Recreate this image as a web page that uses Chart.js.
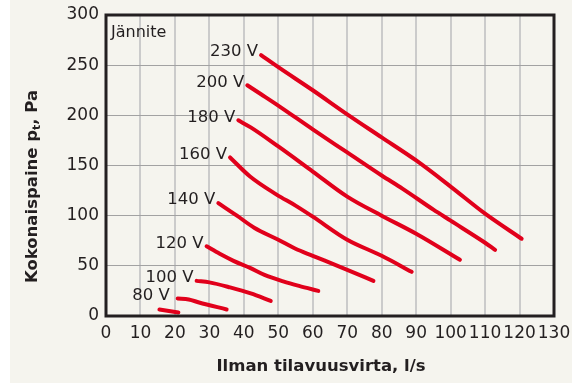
<!DOCTYPE html>
<html>
<head>
<meta charset="utf-8">
<script src="https://cdn.jsdelivr.net/npm/chart.js@4/dist/chart.umd.min.js"></script>
<style>
  html, body { margin: 0; padding: 0; background: #fff; }
  #wrap {
    width: 572px; height: 383px;
    background: linear-gradient(to right, #ffffff 10px, #f5f4ee 10px);
  }
  canvas { display: block; }
</style>
</head>
<body>
<div id="wrap"><canvas id="fanChart" width="572" height="383"></canvas></div>
<script>
// Ilmavirta (l/s) ja kokonaispaine (Pa) eri jännitteillä
const q230 = [45, 50, 60, 70, 80, 90, 100, 110, 120.6];
const p230 = [260, 248, 225, 201, 178, 155, 129, 102, 77];

const q200 = [41, 45, 50.5, 60, 70, 80, 86, 95, 100, 110, 112.9];
const p200 = [230, 221, 208.5, 186, 163, 140, 127, 106, 95, 73, 66];

const q180 = [38.4, 42, 50, 60, 70, 80, 90, 102.7];
const p180 = [195, 188, 169, 144, 119, 100, 82, 56];

const q160 = [36, 41.8, 49.5, 55, 60, 70, 80, 88.7];
const p160 = [158, 139, 121, 110, 99, 76, 60, 44];

const q140 = [32.6, 38, 43, 50, 55, 60, 70, 77.6];
const p140 = [112.5, 100, 88, 76, 67, 60, 46, 35];

const q120 = [29.2, 33, 37, 41.8, 46, 51.4, 56, 61.6];
const p120 = [69.5, 62, 55, 48, 41, 34.6, 30, 25];

const q100 = [26.3, 30, 36, 42, 47.8];
const p100 = [35, 33.5, 28.5, 22.5, 15];

const q80 = [20.8, 24, 27, 35];
const p80 = [17.5, 16.5, 13.5, 6.5];

// lyhyt käyrä ilman omaa merkintää
const qLow = [15.5, 21];
const pLow = [6.5, 3.5];

const curveLabels = ['230 V', '200 V', '180 V', '160 V', '140 V', '120 V', '100 V', '80 V', ''];
const curveFlows = [q230, q200, q180, q160, q140, q120, q100, q80, qLow];
const curvePressures = [p230, p200, p180, p160, p140, p120, p100, p80, pLow];

const xTicks = [0, 10, 20, 30, 40, 50, 60, 70, 80, 90, 100, 110, 120, 130];
const yTicks = [0, 50, 100, 150, 200, 250, 300];

const RED = '#e1001b';
const INK = '#231f20';
const FONT = 'DejaVu Sans';

const datasets = curveLabels.map((label, i) => ({
  label,
  data: curveFlows[i].map((x, j) => ({ x, y: curvePressures[i][j] })),
  borderColor: RED,
  borderWidth: 4,
  borderCapStyle: 'round',
  borderJoinStyle: 'round',
  cubicInterpolationMode: 'monotone',
  pointRadius: 0,
  fill: false
}));

// kehys, jännitemerkinnät ja akselien otsikot
const decorations = {
  id: 'decorations',
  afterDatasetsDraw(chart) {
    const { ctx, chartArea: a } = chart;
    ctx.save();

    ctx.strokeStyle = INK;
    ctx.lineWidth = 3;
    ctx.strokeRect(a.left, a.top, a.right - a.left, a.bottom - a.top);

    ctx.fillStyle = INK;
    ctx.font = `16px "${FONT}"`;
    ctx.textAlign = 'left';
    ctx.textBaseline = 'middle';
    ctx.fillText('Jännite', a.left + 5, a.top + 18);

    ctx.font = `16.5px "${FONT}"`;
    ctx.textAlign = 'right';
    chart.data.datasets.forEach((ds, i) => {
      if (!ds.label) return;
      const first = chart.getDatasetMeta(i).data[0];
      const gap = ds.label === '80 V' ? 8 : 3;
      ctx.fillText(ds.label, first.x - gap, first.y - 3);
    });

    // x-akselin otsikko
    ctx.font = `bold 16.5px "${FONT}"`;
    ctx.textAlign = 'center';
    ctx.fillText('Ilman tilavuusvirta, l/s', (a.left + a.right) / 2 - 9, a.bottom + 51);

    // y-akselin otsikko alaindeksillä
    const big = `bold 16.5px "${FONT}"`;
    const small = `bold 11px "${FONT}"`;
    const parts = [
      { t: 'Kokonaispaine p', f: big, dy: 0 },
      { t: 't', f: small, dy: 4 },
      { t: ', Pa', f: big, dy: 0 }
    ];
    let total = 0;
    parts.forEach(p => { ctx.font = p.f; p.w = ctx.measureText(p.t).width; total += p.w; });
    ctx.translate(a.left - 73, (a.top + a.bottom) / 2 + 21);
    ctx.rotate(-Math.PI / 2);
    ctx.textAlign = 'left';
    let x = -total / 2;
    parts.forEach(p => {
      ctx.font = p.f;
      ctx.fillText(p.t, x, p.dy);
      x += p.w;
    });

    ctx.restore();
  }
};

new Chart(document.getElementById('fanChart'), {
  type: 'line',
  data: { datasets },
  options: {
    responsive: false,
    devicePixelRatio: 1,
    animation: false,
    layout: { padding: { left: 0, top: 15, right: 18, bottom: 0 } },
    plugins: {
      legend: { display: false },
      tooltip: { enabled: false }
    },
    scales: {
      x: {
        type: 'linear',
        min: 0,
        max: 130,
        afterBuildTicks: (s) => { s.ticks = xTicks.map(v => ({ value: v })); },
        afterFit: (s) => { s.height = 67; s.paddingLeft = 0; s.paddingRight = 0; },
        grid: { color: '#cbcbcb', lineWidth: 2, drawTicks: false },
        border: { display: false },
        ticks: {
          autoSkip: false,
          maxRotation: 0,
          padding: 7,
          color: INK,
          font: { family: FONT, size: 17 }
        }
      },
      y: {
        min: 0,
        max: 300,
        afterBuildTicks: (s) => { s.ticks = yTicks.map(v => ({ value: v })); },
        afterFit: (s) => { s.width = 106; s.paddingTop = 0; s.paddingBottom = 0; },
        grid: { color: '#a2a2a2', lineWidth: 1, drawTicks: false },
        border: { display: false },
        ticks: {
          padding: 7,
          color: INK,
          font: { family: FONT, size: 17 }
        }
      }
    }
  },
  plugins: [decorations]
});
</script>
</body>
</html>
